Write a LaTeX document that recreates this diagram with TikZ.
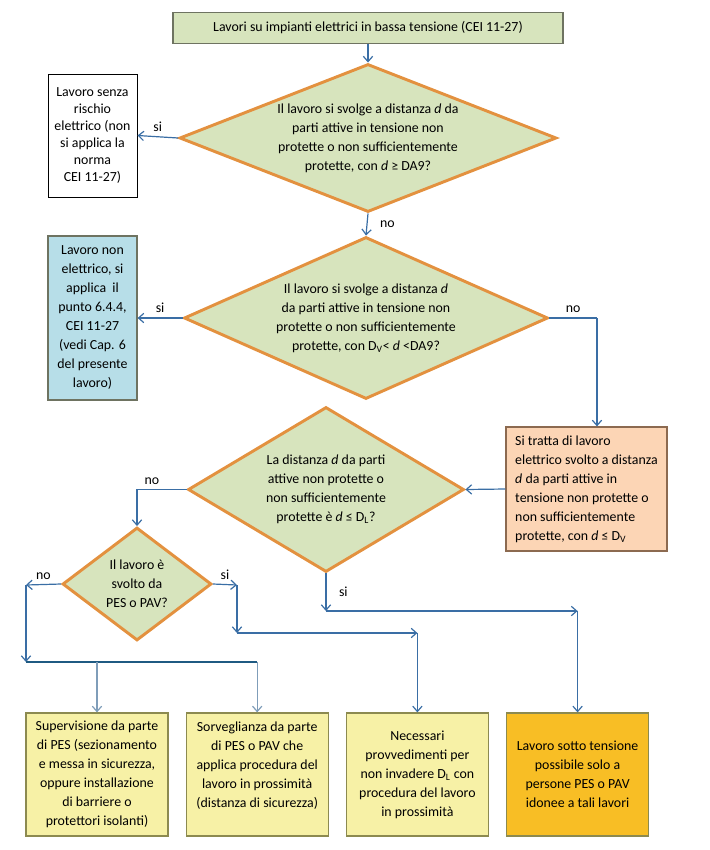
\documentclass[tikz,border=0pt]{standalone}
\usepackage{fontspec}
\setmainfont{Carlito}
\usepackage{tikz}
\usetikzlibrary{positioning}
\usetikzlibrary{arrows.meta,shapes.geometric}
\definecolor{dgreen}{HTML}{D7E4BD}
\definecolor{dorange}{HTML}{E3913F}
\definecolor{tborder}{HTML}{6E7361}
\definecolor{bblue}{HTML}{B7DEE8}
\definecolor{oface}{HTML}{FCD5B5}
\definecolor{oborder}{HTML}{8C6A50}
\definecolor{yface}{HTML}{F7F1A6}
\definecolor{yborder}{HTML}{8C8A50}
\definecolor{gface}{HTML}{F8BE25}
\definecolor{lnk}{HTML}{3A6EA5}
\definecolor{lnkdark}{HTML}{1F5A82}
\definecolor{lnklight}{HTML}{7F9DB9}
\tikzset{
    every picture/.style={>={Straight Barb[length=4pt,width=7pt]},x=0.75pt,y=-0.75pt},
    every node/.style={font=\fontsize{10.4pt}{14.25pt}\selectfont},
    txt/.style={align=center,inner sep=0pt},
    decision/.style={diamond,draw=dorange,line width=2.2pt,fill=dgreen,inner sep=0pt},
    box/.style={rectangle,align=center,inner sep=0pt,line width=0.9pt},
    endbox/.style={box,draw=yborder,fill=yface,minimum width=106.5pt,minimum height=92.25pt},
    link/.style={->,draw=lnk,line width=0.9pt},
}
\begin{document}
\begin{tikzpicture}
\useasboundingbox (0,0) rectangle (710,850);
% start
\node[box,draw=tborder,fill=dgreen,minimum width=292.5pt,minimum height=23.25pt] (start) at (368,28) {Lavori su impianti elettrici in bassa tensione (CEI 11-27)};
% decisions
\node[decision,minimum width=282.75pt,minimum height=111pt,
  label={[txt]center:{Il lavoro si svolge a distanza \textit{d} da\\ parti attive in tensione non\\ protette o non sufficientemente\\ protette, con \textit{d} ≥ DA9?}}] (d1) at (368,138) {};
\node[decision,minimum width=273pt,minimum height=121.5pt,
  label={[txt]center:{Il lavoro si svolge a distanza \textit{d}\\ da parti attive in tensione non\\ protette o non sufficientemente\\ protette, con D\textsubscript{V}< \textit{d} <DA9?}}] (d2) at (366,318) {};
\node[decision,minimum width=207pt,minimum height=123.75pt,
  label={[txt]center:{La distanza \textit{d} da parti\\ attive non protette o\\ non sufficientemente\\ protette è \textit{d} ≤ D\textsubscript{L}?}}] (d3) at (326,489.5) {};
\node[decision,minimum width=111.75pt,minimum height=84.75pt,
  label={[txt]center:{Il lavoro è\\ svolto da\\ PES o PAV?}}] (d4) at (137,584) {};
% side boxes
\node[box,draw=black,fill=white,line width=0.75pt,minimum width=66.75pt,minimum height=92.25pt,
  font=\fontsize{10.4pt}{12.75pt}\selectfont] (nr) at (92.5,135.5) {Lavoro senza\\ rischio\\ elettrico (non\\ si applica la\\ norma\\ CEI 11-27)};
\node[box,draw=tborder,fill=bblue,minimum width=66.75pt,minimum height=123pt] (ne) at (92.5,318) {Lavoro non\\ elettrico, si\\ applica\ \ il\\ punto 6.4.4,\\ CEI 11-27\\ (vedi Cap. 6\\ del presente\\ lavoro)};
\node[box,draw=oborder,fill=oface,minimum width=120.75pt,minimum height=93pt,align=left] (el) at (586.5,489) {Si tratta di lavoro\\ elettrico svolto a distanza\\ \textit{d} da parti attive in\\ tensione non protette o\\ non sufficientemente\\ protette, con \textit{d} ≤ D\textsubscript{V}};
% end boxes
\node[endbox] (ba) at (97,774.5) {Supervisione da parte\\ di PES (sezionamento\\ e messa in sicurezza,\\ oppure installazione\\ di barriere o\\ protettori isolanti)};
\node[endbox,right=12.75pt of ba] (bb) {Sorveglianza da parte\\ di PES o PAV che\\ applica procedura del\\ lavoro in prossimità\\ (distanza di sicurezza)\\ \mbox{}};
\node[endbox,right=12.75pt of bb] (bc) {Necessari\\ provvedimenti per\\ non invadere D\textsubscript{L} con\\ procedura del lavoro\\ in prossimità};
\node[endbox,fill=gface,right=12.75pt of bc] (bd) {Lavoro sotto tensione\\ possibile solo a\\ persone PES o PAV\\ idonee a tali lavori};
% corners
\coordinate (k1) at (597,318);
\coordinate (k3) at (326,611);
\coordinate (k5) at (26,585);
\coordinate (k6) at (26,662);
\coordinate (k8) at (237,585);
\coordinate (k9) at (237,633);

\draw[link] (start) -- (d1.north);
\draw[link] (d1.west) -- node[above]{si} (nr.east);
\draw[link] (d1.south) -- node[right=6pt]{no} (d2.north);
\draw[link] (d2.west) -- node[above]{si} (ne.east);
\draw[draw=lnk,line width=0.9pt] (d2.east) -- node[above]{no} (k1);
\draw[link] (k1) -- (k1 |- el.north);
\draw[link] (el.west) -- (d3.east);
\draw[link] (d3.west) -| node[above,pos=0.35]{no} (d4.north);
\draw[link] (d3.south) -- node[right=6pt]{si} (k3);
\draw[link] (k3) -- (k3 -| bd.north);
\draw[link] (k3 -| bd.north) -- (bd.north);
\draw[link] (d4.west) -- node[above]{no} (k5);
\draw[link] (k5) -- (k6);
\draw[draw=lnkdark,line width=1.6pt] (k6) -- (bb.north |- k6);
\draw[link,draw=lnklight] (ba.north |- k6) -- (ba.north);
\draw[link,draw=lnklight] (bb.north |- k6) -- (bb.north);
\draw[link] (d4.east) -- node[above]{si} (k8);
\draw[link] (k8) -- (k9);
\draw[link] (k9) -- (bc.north |- k9);
\draw[link] (bc.north |- k9) -- (bc.north);
\end{tikzpicture}
\end{document}
